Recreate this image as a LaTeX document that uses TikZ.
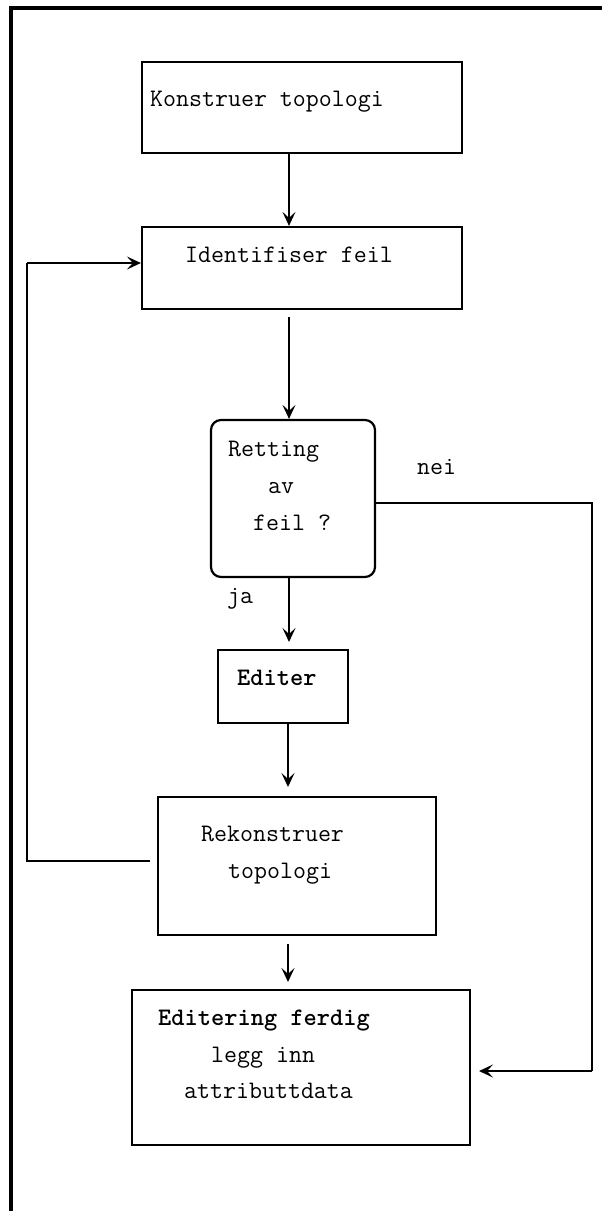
\documentclass[tikz,border=0pt]{standalone}
\usetikzlibrary{arrows.meta}
\begin{document}
\begin{tikzpicture}[x=1pt,y=-1pt,
  box/.style={draw,line width=2.2pt,inner sep=0pt},
  txt/.style={anchor=base west,inner sep=0pt,font=\ttfamily\fontsize{25.2}{28}\selectfont},
  btxt/.style={txt,font=\ttfamily\bfseries\fontsize{25.2}{28}\selectfont},
  arr/.style={line width=2.2pt,-{Stealth[length=14pt,width=13pt,inset=6pt]}},
  ln/.style={line width=2.2pt}]
\useasboundingbox (0,0) rectangle (602,1211);
% frame
\draw[line width=3.5pt] (602,8) -- (11,8) -- (11,1211);
% boxes
\node[box,minimum width=320pt,minimum height=91pt] (k) at (302,107.5) {};
\node[box,minimum width=320pt,minimum height=82pt] (i) at (302,268) {};
\node[box,rounded corners=10pt,minimum width=164pt,minimum height=157pt] (d) at (293,498.5) {};
\node[box,minimum width=130pt,minimum height=73pt] (e) at (283,686.5) {};
\node[box,minimum width=278pt,minimum height=138pt] (r) at (297,866) {};
\node[box,minimum width=338pt,minimum height=155pt] (f) at (301,1067.5) {};
% texts
\node[txt] (tk) at (150,106) {Konstruer topologi};
\node[txt] (ti) at (185,262) {Identifiser feil};
\node[txt] (td1) at (228,456) {Retting};
\node[txt] (td2) at (268,493) {av};
\node[txt] (td3) at (253,530) {feil ?};
\node[txt] (tnei) at (417,474) {nei};
\node[txt] (tja) at (227,603) {ja};
\node[btxt] (te) at (237,685) {Editer};
\node[txt] (tr1) at (201,841) {Rekonstruer};
\node[txt] (tr2) at (228,878) {topologi};
\node[btxt] (tf1) at (158,1025) {Editering ferdig};
\node[txt] (tf2) at (211,1062) {legg inn};
\node[txt] (tf3) at (184,1098) {attributtdata};
% helper coordinates
\coordinate (ax) at (289,0);
\coordinate (a2s) at (289,317);
\coordinate (a3e) at (289,642);
\coordinate (a4e) at (288,787);
\coordinate (a5s) at (288,944);
\coordinate (a5e) at (288,982);
\coordinate (n0) at (375,503);
\coordinate (n1) at (592,503);
\coordinate (n2) at (592,1071);
\coordinate (n3) at (479,1071);
\coordinate (l0) at (150,861);
\coordinate (l1) at (27,861);
\coordinate (l2) at (27,263);
% connectors
\draw[arr] (k.south -| ax) -- (i.north -| ax);
\draw[arr] (a2s) -- (d.north -| ax);
\draw[arr] (d.south -| ax) -- (a3e);
\draw[arr] (e.south -| a4e) -- (a4e);
\draw[arr] (a5s) -- (a5e);
\draw[ln] (n0) -- (n1) -- (n2);
\draw[arr] (n2) -- (n3);
\draw[ln] (l0) -- (l1) -- (l2);
\draw[arr] (l2) -- (i.west |- l2);
\end{tikzpicture}
\end{document}
